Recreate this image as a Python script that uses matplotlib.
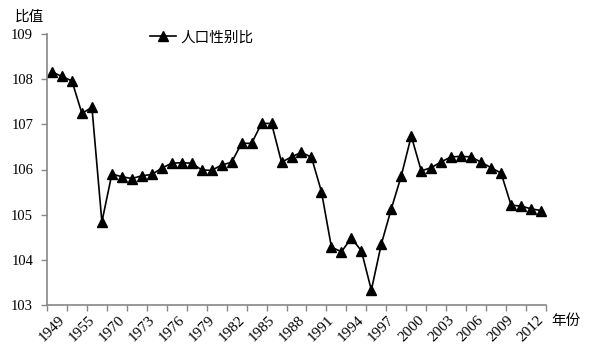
import matplotlib
matplotlib.use("Agg")
import matplotlib.pyplot as plt
import numpy as np

plt.rcParams['font.family'] = ['Liberation Serif', 'Noto Sans CJK SC']

# years on the category axis (only every third one is labelled)
years = [1949, 1950, 1952, 1955, 1960, 1965] + list(range(1970, 2014))
# sex ratio
ratio = [108.16, 108.06, 107.96, 107.24, 107.38, 104.84,
         105.90, 105.84, 105.80, 105.86, 105.89, 106.03, 106.14, 106.15,
         106.14, 105.99, 105.98, 106.10, 106.16, 106.58, 106.58, 107.02,
         107.02, 106.16, 106.28, 106.38, 106.27, 105.51, 104.28, 104.18,
         104.48, 104.20, 103.33, 104.35, 105.13, 105.86, 106.74, 105.97,
         106.04, 106.17, 106.28, 106.29, 106.28, 106.16, 106.04, 105.92,
         105.21, 105.19, 105.13, 105.09]
y_ticks = [103, 104, 105, 106, 107, 108, 109]

x = np.arange(len(years))

fig = plt.figure(figsize=(5.93, 3.53), dpi=100)
ax = fig.add_axes([47/593, 1 - 305/353, (546 - 47)/593, (305 - 34)/353])

ax.plot(x, ratio, color='black', lw=1.2, marker='^', ms=6.5,
        label='人口性别比')

ax.set_xlim(-0.5, len(years) - 0.5)
ax.set_ylim(103, 109)

# tick marks between every two categories, labels every three
ax.set_xticks(np.arange(-0.5, len(years), 2))
ax.set_xticklabels([])
ax.set_xticks(x[::3], minor=True)
ax.set_xticklabels([str(years[i]) for i in x[::3]], minor=True,
                   rotation=45, ha='center', va='top', fontsize=11)
ax.tick_params(axis='x', which='major', direction='out', length=4,
               color='#888888', width=1)
ax.tick_params(axis='x', which='minor', length=0, pad=6)

ax.set_yticks(y_ticks)
ax.set_yticklabels([str(v) for v in y_ticks], fontsize=10.5)
ax.tick_params(axis='y', direction='out', length=4, color='#888888',
               width=1, pad=6)

for s in ['top', 'right']:
    ax.spines[s].set_visible(False)
for s in ['left', 'bottom']:
    ax.spines[s].set_color('#888888')
    ax.spines[s].set_linewidth(1.2)

fig.text(15/593, 1 - 17/353, '比值', fontsize=10.5, va='center', ha='left')
fig.text(551/593, 1 - 321/353, '年份', fontsize=10.5, va='center', ha='left')

ax.legend(loc='upper left', bbox_to_anchor=(0.18, 1.06), frameon=False,
          fontsize=10.5, handlelength=1.8, handletextpad=0.3)

fig.savefig('out.png', dpi=100)
